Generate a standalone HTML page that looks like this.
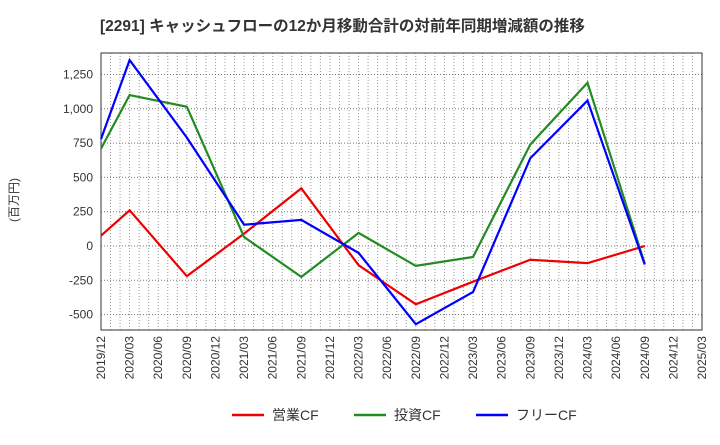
<!DOCTYPE html>
<html><head><meta charset="utf-8"><style>
body{margin:0;background:#fff;font-family:"Liberation Sans","Noto Sans CJK JP",sans-serif;}
</style></head><body>
<svg id="c" width="720" height="440" xmlns="http://www.w3.org/2000/svg">
<text x="100" y="31" font-size="15.5" font-weight="bold" fill="#333">[2291]  キャッシュフローの12か月移動合計の対前年同期増減額の推移</text>
<text x="18" y="200" font-size="12" fill="#333" transform="rotate(-90 18 200)" text-anchor="middle">(百万円)</text>
<g id="grid"></g><g id="axes"></g><g id="series"></g>
<g>
<line x1="232" y1="415" x2="264" y2="415" stroke="#e00" stroke-width="2.5"/><text x="272" y="420" font-size="14" fill="#333">営業CF</text>
<line x1="354" y1="415" x2="386" y2="415" stroke="#228b22" stroke-width="2.5"/><text x="394" y="420" font-size="14" fill="#333">投資CF</text>
<line x1="476" y1="415" x2="508" y2="415" stroke="#00f" stroke-width="2.5"/><text x="516" y="420" font-size="14" fill="#333">フリーCF</text>
</g>
</svg>
<script>
const xLabels=["2019/12","2020/03","2020/06","2020/09","2020/12","2021/03","2021/06","2021/09","2021/12","2022/03","2022/06","2022/09","2022/12","2023/03","2023/06","2023/09","2023/12","2024/03","2024/06","2024/09","2024/12","2025/03"];
const yTicks=[1250,1000,750,500,250,0,-250,-500];
const dataQuarters=[0,1,3,5,7,9,11,13,15,17,19];
const operatingCF=[75,260,-220,90,420,-140,-425,-260,-100,-125,0];
const investingCF=[710,1100,1015,65,-225,95,-145,-80,740,1190,-130];
const freeCF=[780,1355,790,155,190,-50,-570,-335,640,1060,-135];
const L=101,R=702,T=53,B=330,NS="http://www.w3.org/2000/svg";
const xs=q=>L+(R-L)*q/21;
const ys=v=>246-v*34.3/250;
const svg=document.getElementById('c');
function mk(t,a,p){const e=document.createElementNS(NS,t);for(const k in a)e.setAttribute(k,a[k]);p.appendChild(e);return e;}
const grid=document.getElementById('grid'),axes=document.getElementById('axes'),ser=document.getElementById('series');
for(let m=1;m<63;m++){const x=L+(R-L)*m/63;const l=mk('line',{x1:x,x2:x,y1:T,y2:B,stroke:'#999','stroke-dasharray':'1,2','stroke-width':1},grid);

}
yTicks.forEach(v=>{const y=ys(v);const l=mk('line',{x1:L,x2:R,y1:y,y2:y,stroke:'#777','stroke-dasharray':'1,2','stroke-width':1},grid);


const t=mk('text',{x:L-8,y:y+4,'font-size':12,fill:'#333','text-anchor':'end'},axes);t.textContent=v.toLocaleString('en-US');

});
const fr=mk('rect',{x:L,y:T,width:R-L,height:B-T,fill:'none',stroke:'#333','stroke-width':1},axes);


xLabels.forEach((s,i)=>{const x=xs(i)+4;const t=mk('text',{x:x,y:B+6,'font-size':12,fill:'#333','text-anchor':'end',transform:`rotate(-90 ${x} ${B+6})`},axes);t.textContent=s;

});
[[operatingCF,'#e00','operating-cf-line'],[investingCF,'#228b22','investing-cf-line'],[freeCF,'#00f','free-cf-line']].forEach(([d,c,n])=>{
const p=mk('polyline',{points:d.map((v,i)=>xs(dataQuarters[i])+','+ys(v)).join(' '),fill:'none',stroke:c,'stroke-width':2.2},ser);

});
</script>
</body></html>
